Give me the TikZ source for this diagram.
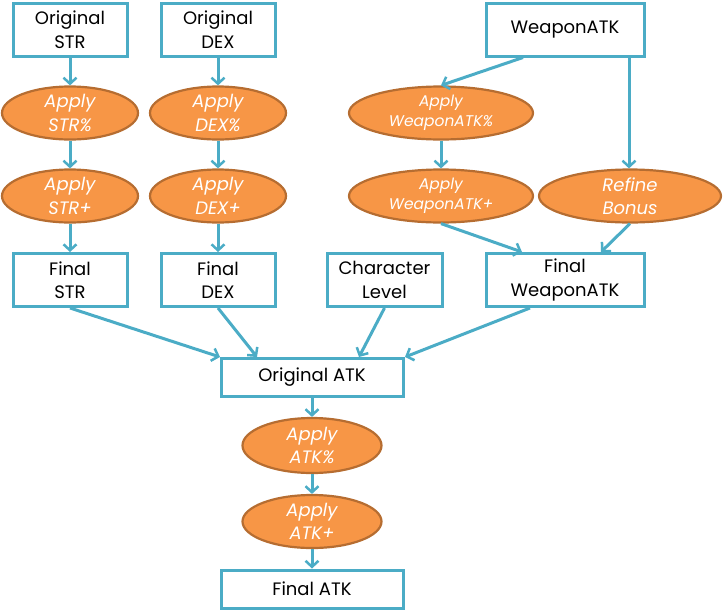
\documentclass[tikz,border=0pt]{standalone}
\usepackage{fontspec}
\setmainfont{Poppins}
\usetikzlibrary{arrows.meta,shapes.geometric}
\definecolor{boxblue}{HTML}{4BACC6}
\definecolor{ellfill}{HTML}{F79646}
\definecolor{elldraw}{HTML}{B66D31}
\tikzset{
  x=1pt,y=-1pt,
  sbox/.style={draw=boxblue,line width=3pt,fill=white,align=center,inner sep=0pt,
    font=\fontsize{18}{23.5}\selectfont,text=black},
  sell/.style={ellipse,draw=elldraw,line width=2.2pt,fill=ellfill,align=center,inner sep=0pt,
    font=\itshape\fontsize{18}{23.5}\selectfont,text=white},
  smallell/.style={sell,font=\itshape\fontsize{15.5}{20}\selectfont},
  conn/.style={draw=boxblue,line width=3pt,-{Straight Barb[length=6pt,width=13pt,line width=2.5pt]}}
}
\begin{document}
\begin{tikzpicture}
\useasboundingbox (0,0) rectangle (723,611);
% top row
\node[sbox,minimum width=114pt,minimum height=53pt] (ostr) at (70,29.5) {Original\\STR};
\node[sbox,minimum width=114pt,minimum height=53pt] (odex) at (218,29.5) {Original\\DEX};
\node[sbox,minimum width=158pt,minimum height=53pt] (watk) at (565,29.5) {WeaponATK};
% ellipses row 1
\node[sell,minimum width=136pt,minimum height=53pt] (astrp) at (70,113) {Apply\\STR\%};
\node[sell,minimum width=136pt,minimum height=53pt] (adexp) at (218,113) {Apply\\DEX\%};
\node[smallell,minimum width=184pt,minimum height=53pt] (awp) at (441,113) {Apply\\WeaponATK\%};
% ellipses row 2
\node[sell,minimum width=136pt,minimum height=53pt] (astra) at (70,196) {Apply\\STR+};
\node[sell,minimum width=136pt,minimum height=53pt] (adexa) at (218,196) {Apply\\DEX+};
\node[smallell,minimum width=184pt,minimum height=53pt] (awa) at (441,196) {Apply\\WeaponATK+};
\node[sell,minimum width=182pt,minimum height=53pt] (refine) at (630,196) {Refine\\Bonus};
% row 3 boxes
\node[sbox,minimum width=114pt,minimum height=53pt] (fstr) at (70,280) {Final\\STR};
\node[sbox,minimum width=114pt,minimum height=53pt] (fdex) at (218,280) {Final\\DEX};
\node[sbox,minimum width=115pt,minimum height=53pt] (clvl) at (384.5,280) {Character\\Level};
\node[sbox,minimum width=158pt,minimum height=53pt] (fw) at (565,280) {Final\\WeaponATK};
% bottom column
\node[sbox,minimum width=182pt,minimum height=38pt] (oatk) at (312,377.5) {Original ATK};
\node[sell,minimum width=139pt,minimum height=55pt] (aatkp) at (312,445.5) {Apply\\ATK\%};
\node[sell,minimum width=139pt,minimum height=53pt] (aatka) at (312,521.5) {Apply\\ATK+};
\node[sbox,minimum width=182pt,minimum height=38pt] (fatk) at (312,589) {Final ATK};
% connectors
\draw[conn] (ostr) -- (astrp);
\draw[conn] (astrp) -- (astra);
\draw[conn] (astra) -- (fstr);
\draw[conn] (odex) -- (adexp);
\draw[conn] (adexp) -- (adexa);
\draw[conn] (adexa) -- (fdex);
\draw[conn] (watk.south -| 523,0) -- (awp.north);
\draw[conn] (watk.south -| 629,0) -- (refine.north -| 629,0);
\draw[conn] (awp) -- (awa);
\draw[conn] (awa.south) -- (fw.north -| 522,0);
\draw[conn] (refine.south) -- (fw.north -| 601,0);
\draw[conn] (fstr.south) -- (oatk.north -| 220,0);
\draw[conn] (fdex.south) -- (oatk.north -| 257,0);
\draw[conn] (clvl.south) -- (oatk.north -| 359,0);
\draw[conn] (fw.south -| 530,0) -- (oatk.north -| 405,0);
\draw[conn] (oatk) -- (aatkp);
\draw[conn] (aatkp) -- (aatka);
\draw[conn] (aatka) -- (fatk);
\end{tikzpicture}
\end{document}
